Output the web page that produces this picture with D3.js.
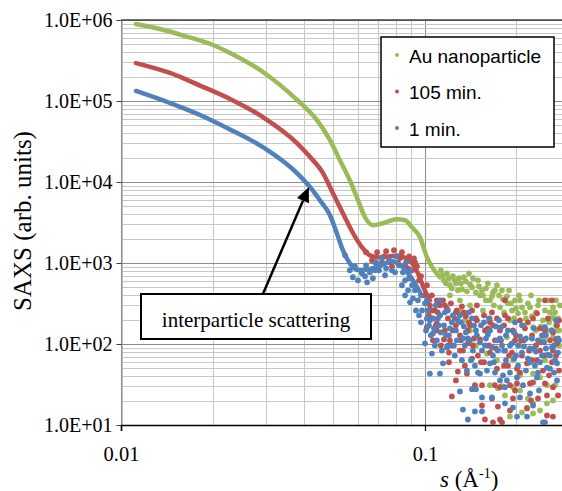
<!DOCTYPE html>
<html>
<head>
<meta charset="utf-8">
<script src="https://cdn.jsdelivr.net/npm/d3@7"></script>
<style>
body { margin: 0; background: #fff; }
svg { display: block; }
</style>
</head>
<body>
<div id="chart"></div>
<script>
// Series names / colours, in legend order
var seriesNames = ["Au nanoparticle", "105 min.", "1 min."];
var seriesColors = ["#9bbb59", "#c0504d", "#4f81bd"];

// Axis ticks and labels
var xTicks = [0.01, 0.1];
var xTickLabels = ["0.01", "0.1"];
var yTicks = [1e1, 1e2, 1e3, 1e4, 1e5, 1e6];
var yTickLabels = ["1.0E+01", "1.0E+02", "1.0E+03", "1.0E+04", "1.0E+05", "1.0E+06"];

// Smooth (low s) part of each curve: s values and SAXS values
var auLineS = [0.0112, 0.01344, 0.01624, 0.02007, 0.02284, 0.02931, 0.03793, 0.04413, 0.0487, 0.0525, 0.0566, 0.0602, 0.0635, 0.0674, 0.0728, 0.0809, 0.0860, 0.0906, 0.0963, 0.1015, 0.1062, 0.112];
var auLineI = [893000, 774000, 634000, 491000, 391000, 228000, 103000, 58100, 32900, 18600, 10500, 5960, 3670, 2920, 3100, 3470, 3370, 2760, 2080, 1180, 859, 666];

var redLineS = [0.0112, 0.01449, 0.0182, 0.02284, 0.02931, 0.03793, 0.0419, 0.04618, 0.0498, 0.0537, 0.0580, 0.0621, 0.0659, 0.0711, 0.0767, 0.0815, 0.0866, 0.0913, 0.0948, 0.0992, 0.1038];
var redLineI = [294000, 222000, 155000, 106000, 63200, 30200, 20300, 12900, 7280, 4110, 2330, 1560, 1240, 1170, 1210, 1240, 1140, 964, 746, 486, 346];

var blueLineS = [0.0112, 0.01449, 0.0182, 0.02284, 0.02931, 0.03793, 0.0419, 0.0451, 0.0487, 0.0513, 0.0537, 0.0566, 0.0611, 0.0669, 0.0728, 0.0785, 0.0846, 0.0913, 0.0963];
var blueLineI = [133000, 94500, 67200, 44500, 26900, 12900, 8630, 5960, 3890, 2330, 1440, 991, 813, 859, 964, 1050, 885, 611, 434];

// Noisy (high s) points: [s, SAXS]
var auDots = [[0.1146,706],[0.1172,561],[0.1199,648],[0.1226,487],[0.1254,611],[0.1283,460],[0.1313,561],[0.1343,667],[0.1374,447],[0.1406,545],[0.1438,648],[0.1471,435],[0.1505,516],[0.1552,399],[0.1587,487],[0.1636,346],[0.1674,435],[0.1725,531],[0.1765,284],[0.1806,356],[0.1833,356],[0.1875,318],[0.1933,260],[0.1978,346],[0.2024,239],[0.2085,284],[0.2149,207],[0.2216,284],[0.2267,161],[0.2318,246],[0.239,111],[0.2445,196],[0.252,147],[0.2578,246],[0.2637,284],[0.2637,214],[0.2637,121],[0.2698,170],[0.2719,147],[0.2761,96],[0.1552,260],[0.1636,207],[0.1861,121],[0.1904,196],[0.1948,63],[0.1599,76.2],[0.2054,96],[0.239,38.7],[0.2267,43.1],[0.1636,31],[0.1792,30.1],[0.1948,29.3],[0.2054,26.7],[0.2182,21.3],[0.2267,18.5],[0.2267,13.9],[0.2166,16.4],[0.1904,12.7],[0.2085,14.3],[0.252,18.5],[0.252,31],[0.2637,20.1],[0.1738,28.5],[0.1725,63],[0.1406,147],[0.1471,96],[0.1303,260],[0.1353,196],
  [0.1128,813],[0.1155,611],[0.1181,746],[0.1208,531],[0.1235,686],[0.1264,561],[0.1293,648],[0.1323,474],[0.1363,594],[0.1395,746],[0.1428,502],[0.1494,611],[0.154,460],[0.1611,561],[0.1661,388],[0.1699,460],[0.1752,399],[0.1792,460],[0.1861,388],[0.1918,318],[0.1993,275],[0.2054,346],[0.2133,246],[0.2182,318],[0.225,220],[0.2354,300],[0.2408,165],[0.2482,260],[0.2559,185],[0.2678,246],[0.274,207],[0.278,300],[0.2539,346],
  [0.1517,399],[0.1587,346],[0.1686,300],[0.182,246],[0.189,460],[0.1963,207],[0.2039,399],[0.2118,170],[0.2233,399],[0.2318,147],[0.2372,346],[0.2464,117],[0.2598,147],[0.2698,346],[0.2761,147],[0.1765,111],[0.2216,83],[0.2482,63],[0.2054,41],[0.2678,31],[0.1833,23.2],[0.239,15.1],[0.1303,346],[0.1406,300],[0.1208,399]];

var redDots = [[0.064,1360],[0.0669,1080],[0.0696,1360],[0.0722,1020],[0.0745,1400],[0.0767,1020],[0.0791,1440],[0.0815,990],[0.084,1360],[0.086,937],[0.0887,1210],[0.0907,813],[0.0927,1020],[0.0956,611],[0.097,686],[0.0993,399],[0.1015,531],[0.1038,300],[0.1054,399],[0.1078,260],[0.1094,346],[0.1023,346],[0.1062,207],[0.1102,246],
  [0.0685,1020],[0.0733,1210],[0.0779,911],[0.0827,1143],[0.088,860],[0.092,1143],[0.0941,911],
  [0.1015,161],[0.1094,180],[0.112,226],[0.1163,147],[0.1199,59.5],[0.1208,111],[0.1226,22.5],[0.1254,207],[0.1283,45.7],[0.1303,128],[0.1333,83],[0.1374,43.1],[0.1384,102],[0.1406,170],[0.145,117],[0.1494,72],[0.154,31],[0.154,17.4],[0.1575,11.7],[0.1587,147],[0.1636,78.4],[0.1661,21.3],[0.1674,10.8],[0.1699,111],[0.1738,16.9],[0.1765,29.3],[0.1765,11.7],[0.1792,10.8],[0.182,170],[0.1833,83],[0.1875,54],[0.1904,31],[0.1904,15.1],[0.1948,21.3],[0.1978,111],[0.2008,32.6],[0.2054,196],[0.2085,72],[0.2166,57.8],[0.2166,16],[0.2216,32.6],[0.225,128],[0.2267,33.5],[0.2336,239],[0.2354,21.3],[0.239,83],[0.2445,47],[0.2482,32.6],[0.252,13.1],[0.252,23.2],[0.2578,111],[0.2617,346],[0.2637,139],[0.2637,29.3],[0.2637,12.7],[0.2698,72],[0.2719,102],[0.2761,196],[0.2761,47],
  [0.1146,346],[0.1181,275],[0.1217,318],[0.1264,246],[0.1323,292],[0.1363,220],[0.1428,260],[0.1482,196],[0.1564,226],[0.1636,185],[0.1725,207],
  [0.1054,260],[0.1086,170],[0.112,300],[0.1155,114],[0.119,207],[0.1226,96],[0.1264,170],[0.1303,83],[0.1343,246],[0.1384,147],[0.1428,66.1],[0.1471,207],[0.1517,114],[0.1564,59.5],[0.1611,156],[0.1661,246],[0.1712,88],[0.1765,147],[0.182,54],[0.1875,207],[0.1933,78.4],[0.1993,128],[0.2054,44.4],[0.2118,111],[0.2182,185],[0.225,63],[0.2318,96],[0.239,156],[0.2464,72],[0.2539,207],[0.2617,59.5],[0.2698,114],
  [0.103,226],[0.1062,111],[0.1094,147],[0.1128,96],[0.1163,300],[0.1199,78.4],[0.1235,147],[0.1273,260],[0.1313,111],[0.1353,54],[0.1395,185],[0.1438,96],[0.1482,300],[0.1529,59.5],[0.1575,147],[0.1624,96],[0.1674,170],[0.1725,49.6],[0.1778,111],[0.1833,226],[0.189,72],[0.1948,147],[0.2008,49.6],[0.207,111],[0.2133,156],[0.2199,83],[0.2267,207],[0.2336,63],[0.2408,105],[0.2482,147],[0.2559,41],[0.2637,83],[0.2719,170],[0.2482,346],[0.1833,346],[0.1978,26.7],[0.1699,31],[0.146,31],[0.1264,35.5],[0.2233,20.1],[0.274,23.2]];

var blueDots = [[0.0546,1245],[0.0566,813],[0.0579,667],[0.0588,911],[0.0602,611],[0.062,746],[0.064,937],[0.0645,577],[0.0659,768],[0.0674,648],[0.069,1020],[0.0706,813],[0.0722,1143],[0.0745,860],[0.0762,1080],[0.0779,813],[0.0803,1210],[0.0822,937],[0.0846,768],[0.0867,1020],[0.0887,648],[0.0907,531],[0.0927,460],[0.0948,346],[0.097,399],[0.0978,260],[0.1,318],[0.1015,207],[0.1,102],
  [0.0635,686],[0.0685,813],[0.0739,706],[0.0797,768],[0.086,611],[0.0893,813],[0.0711,937],
  [0.084,531],[0.086,399],[0.088,460],[0.0893,327],[0.0913,366],[0.0934,260],[0.0956,226],[0.097,185],[0.1008,147],[0.1031,170],
  [0.1023,260],[0.1038,43.1],[0.1054,207],[0.1054,76.2],[0.1062,135],[0.1086,300],[0.112,43.1],[0.112,226],[0.1146,57.8],[0.1155,170],[0.1181,90.7],[0.119,260],[0.1226,185],[0.1264,147],[0.1303,26],[0.1303,226],[0.1333,15.5],[0.1343,165],[0.1374,47],[0.1384,117],[0.1384,11.7],[0.1428,27.7],[0.1428,207],[0.146,14.7],[0.1471,147],[0.1471,27.7],[0.1517,43.1],[0.1517,105],[0.154,21.9],[0.154,14.7],[0.1564,185],[0.1611,131],[0.1636,57.8],[0.1661,21.9],[0.1661,90.7],[0.1712,165],[0.1765,35.5],[0.1765,117],[0.1806,41],[0.182,83],[0.1833,29.3],[0.1833,18.5],[0.1875,147],[0.1933,102],[0.1948,16.4],[0.1993,72],[0.2008,38.7],[0.2008,12.7],[0.2054,124],[0.2054,21.9],[0.2118,93.3],[0.2166,12.7],[0.2182,66.1],[0.2216,24.5],[0.225,117],[0.2267,17.4],[0.2318,80.7],[0.2336,38.7],[0.239,59.5],[0.2445,10.8],[0.2464,105],[0.2482,10.8],[0.252,51],[0.2539,74],[0.2617,90.7],[0.2678,63],[0.2719,57.8],[0.2761,111],[0.2698,196],[0.2482,161],
  [0.1038,196],[0.107,156],[0.1103,207],[0.1128,139],[0.1163,246],[0.1199,128],[0.1235,226],[0.1273,111],[0.1313,185],[0.1353,96],[0.1395,246],[0.1438,83],[0.1482,128],[0.1529,170],[0.1575,96],[0.1624,207],[0.1674,72],[0.1725,111],[0.1778,161],[0.1847,63],[0.1904,96],[0.1963,139],[0.2024,54],[0.2085,170],[0.2149,47],[0.2216,88],[0.2284,156],[0.2354,111],[0.2426,72],[0.2501,128],[0.2578,49.6],[0.2658,96],[0.274,78.4],[0.1094,111],[0.1254,72],[0.146,54],[0.1699,44.4],[0.1978,185],[0.2301,54],[0.2617,147],
  [0.1015,346],[0.1046,128],[0.1078,96],[0.1111,170],[0.1137,83],[0.1172,128],[0.1208,156],[0.1245,96],[0.1283,196],[0.1323,63],[0.1363,139],[0.1406,111],[0.145,170],[0.1494,44.4],[0.154,83],[0.1587,117],[0.1636,147],[0.1686,59.5],[0.1738,83],[0.1792,96],[0.1847,128],[0.1904,44.4],[0.1963,66.1],[0.2024,96],[0.2085,78.4],[0.2149,117],[0.2216,59.5],[0.2284,88],[0.2354,44.4],[0.2426,128],[0.2501,88],[0.2578,72],[0.2658,44.4],[0.274,117],[0.112,346],[0.119,96],[0.1333,117],[0.1417,63],[0.1599,47],[0.1752,196],[0.1861,35.5],[0.2101,31],[0.2372,26.7],[0.2719,35.5]];

// Annotation arrow: tail and tip in data units
var arrowFrom = [0.0293, 414];
var arrowTo = [0.0415, 8700];

// Size of the drawing
var width = 562,
    height = 491,
    plotLeft = 121,
    plotTop = 20,
    plotBottom = 425;

var serif = "'Liberation Serif', 'Times New Roman', serif";

var svg = d3.select("#chart")
    .append("svg")
    .attr("width", width)
    .attr("height", height)
    .attr("font-family", serif);

var x = d3.scaleLog().domain([0.01, 0.3]).range([plotLeft, 570]);
var y = d3.scaleLog().domain([10, 1e6]).range([plotBottom, plotTop]);

// Gridlines: minor first, then the decades
var grid = svg.append("g");
var xGrid = x.ticks(), yGrid = y.ticks();
xGrid.sort(function(a, b) { return (xTicks.indexOf(a) >= 0) - (xTicks.indexOf(b) >= 0); });
yGrid.sort(function(a, b) { return (yTicks.indexOf(a) >= 0) - (yTicks.indexOf(b) >= 0); });
xGrid.forEach(function(t) {
    var major = xTicks.indexOf(t) >= 0;
    grid.append("line")
        .attr("x1", Math.round(x(t)) + 0.5).attr("x2", Math.round(x(t)) + 0.5)
        .attr("y1", plotTop).attr("y2", plotBottom)
        .attr("stroke", major ? "#8c8c8c" : "#c8c8c8")
        .attr("stroke-width", 1);
});
yGrid.forEach(function(t) {
    var major = yTicks.indexOf(t) >= 0;
    grid.append("line")
        .attr("x1", plotLeft).attr("x2", width)
        .attr("y1", Math.round(y(t)) + 0.5).attr("y2", Math.round(y(t)) + 0.5)
        .attr("stroke", major ? "#8c8c8c" : "#c8c8c8")
        .attr("stroke-width", 1);
});

// top border
svg.append("line")
    .attr("x1", plotLeft).attr("x2", width)
    .attr("y1", plotTop).attr("y2", plotTop)
    .attr("stroke", "#404040").attr("stroke-width", 1.5);

// Y axis
var yAxis = svg.append("g")
    .attr("transform", "translate(" + (plotLeft + 0.5) + ",0)")
    .call(d3.axisLeft(y).tickValues(yTicks)
        .tickFormat(function(d, i) { return yTickLabels[i]; })
        .tickSize(5).tickPadding(4));
yAxis.attr("font-family", serif).attr("font-size", 20);
yAxis.select(".domain").attr("stroke", "#868686");
yAxis.selectAll(".tick line").attr("stroke", "#404040");
yAxis.selectAll("text").attr("fill", "#000");

// X axis
var xAxis = svg.append("g")
    .attr("transform", "translate(0," + plotBottom + ")")
    .call(d3.axisBottom(x).tickValues(xTicks)
        .tickFormat(function(d, i) { return xTickLabels[i]; })
        .tickSize(6).tickPadding(15));
xAxis.attr("font-family", serif).attr("font-size", 20.5);
xAxis.select(".domain").attr("stroke", "#000").attr("stroke-width", 1.5);
xAxis.selectAll(".tick line").attr("stroke", "#000").attr("stroke-width", 1.2);
xAxis.selectAll("text").attr("fill", "#000");

// Curves and points
svg.append("clipPath").attr("id", "plotclip")
    .append("rect").attr("x", plotLeft).attr("y", plotTop)
    .attr("width", width - plotLeft).attr("height", plotBottom - plotTop);
var plot = svg.append("g").attr("clip-path", "url(#plotclip)");

var line = d3.line()
    .x(function(d) { return x(d[0]); })
    .y(function(d) { return y(d[1]); })
    .curve(d3.curveMonotoneX);

var series = [
    { s: auLineS, v: auLineI, dots: auDots },
    { s: redLineS, v: redLineI, dots: redDots },
    { s: blueLineS, v: blueLineI, dots: blueDots }
];

series.forEach(function(ser, k) {
    var pts = ser.s.map(function(s, i) { return [s, ser.v[i]]; });
    plot.append("path")
        .datum(pts)
        .attr("d", line)
        .attr("fill", "none")
        .attr("stroke", seriesColors[k])
        .attr("stroke-width", 4.5)
        .attr("stroke-linecap", "round")
        .attr("stroke-linejoin", "round");
    plot.selectAll(".dot" + k)
        .data(ser.dots)
        .enter()
        .append("circle")
        .attr("class", "dot" + k)
        .attr("cx", function(d) { return x(d[0]); })
        .attr("cy", function(d) { return y(d[1]); })
        .attr("r", 2.9)
        .attr("fill", seriesColors[k]);
});

// Legend
var legend = svg.append("g");
legend.append("rect")
    .attr("x", 381).attr("y", 37)
    .attr("width", 173).attr("height", 110)
    .attr("fill", "#fff")
    .attr("stroke", "#000").attr("stroke-width", 1.5);
seriesNames.forEach(function(name, i) {
    var ly = 55 + i * 36.5;
    legend.append("circle")
        .attr("cx", 397).attr("cy", ly)
        .attr("r", 2)
        .attr("fill", seriesColors[i]);
    legend.append("text")
        .attr("x", 409).attr("y", ly + 7.5)
        .text(name)
        .attr("font-family", "'Liberation Sans', Arial, sans-serif")
        .attr("font-size", 19)
        .attr("fill", "#000");
});

// Annotation box and arrow
svg.append("rect")
    .attr("x", 141).attr("y", 294)
    .attr("width", 230).attr("height", 45)
    .attr("fill", "#fff")
    .attr("stroke", "#000").attr("stroke-width", 2);
svg.append("text")
    .attr("x", 256).attr("y", 327)
    .attr("text-anchor", "middle")
    .attr("font-size", 21)
    .text("interparticle scattering");

var ax1 = x(arrowFrom[0]), ay1 = y(arrowFrom[1]),
    ax2 = x(arrowTo[0]), ay2 = y(arrowTo[1]);
var ang = Math.atan2(ay2 - ay1, ax2 - ax1),
    headLen = 15, headW = 6.5;
var bx = ax2 - headLen * Math.cos(ang), by = ay2 - headLen * Math.sin(ang);
svg.append("line")
    .attr("x1", ax1).attr("y1", ay1)
    .attr("x2", bx).attr("y2", by)
    .attr("stroke", "#000").attr("stroke-width", 2.5);
svg.append("path")
    .attr("d", "M" + ax2 + "," + ay2 +
        "L" + (bx + headW * Math.sin(ang)) + "," + (by - headW * Math.cos(ang)) +
        "L" + (bx - headW * Math.sin(ang)) + "," + (by + headW * Math.cos(ang)) + "Z")
    .attr("fill", "#000");

// Axis titles
svg.append("text")
    .attr("transform", "translate(31,221) rotate(-90)")
    .attr("text-anchor", "middle")
    .attr("font-size", 25)
    .text("SAXS (arb. units)");

var xt = svg.append("text")
    .attr("x", 440).attr("y", 487)
    .attr("font-size", 23);
xt.append("tspan").attr("font-style", "italic").text("s");
xt.append("tspan").text(" (Å");
xt.append("tspan").attr("dy", -9).attr("font-size", 14).text("-1");
xt.append("tspan").attr("dy", 9).text(")");
</script>
</body>
</html>
